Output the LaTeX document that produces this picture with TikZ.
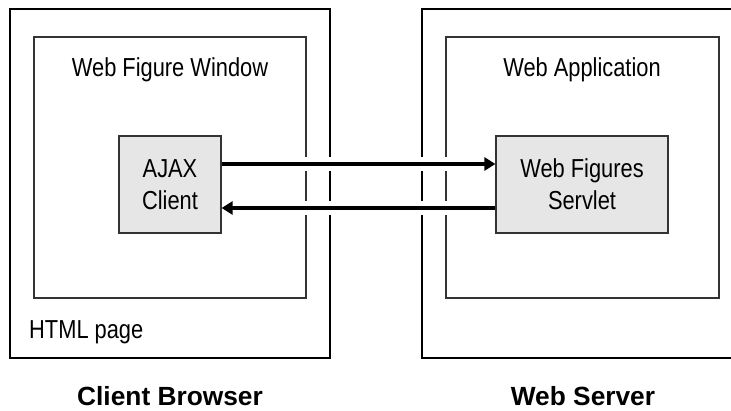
\documentclass[tikz,border=0pt]{standalone}
\usepackage{fontspec}
\setmainfont{Liberation Sans}[FakeStretch=0.84]
\newfontfamily\labelfont{Liberation Sans}
\usetikzlibrary{arrows.meta}
\definecolor{boxgray}{HTML}{E6E6E6}
\definecolor{linegray}{HTML}{333333}
\tikzset{
  outerbox/.style={draw=black, line width=2.6pt, inner sep=0pt, minimum width=#1},
  innerbox/.style={draw=linegray, line width=1.5pt, inner sep=0pt},
  graybox/.style={draw=linegray, line width=1.2pt, fill=boxgray, inner sep=0pt, align=center,
    font=\fontsize{26}{32}\selectfont},
  lighttext/.style={font=\fontsize{26}{32}\selectfont, inner sep=0pt},
  boldlabel/.style={font=\labelfont\bfseries\fontsize{26.3}{30}\selectfont, inner sep=0pt, anchor=base},
  flow/.style={line width=3.2pt, -{Triangle[length=11pt,width=13pt]},
    preaction={draw=white, line width=14pt, -, shorten <=4pt, shorten >=4pt}}
}
\begin{document}
\begin{tikzpicture}[x=1pt,y=-1pt]
\useasboundingbox (0,0) rectangle (731,411);
\clip (0,0) rectangle (731,411);
\fill[white] (0,0) rectangle (731,411);
% left side
\node[outerbox=320pt, minimum height=349pt] (cb) at (170,183.5) {};
\node[innerbox, minimum width=272pt, minimum height=261pt] (wfw) at (170,167.5) {};
\node[graybox, minimum width=102pt, minimum height=97pt] (ajax) at (170,184.5) {AJAX\\Client};
\node[lighttext, anchor=base] (wfwl) at (170,77) {Web Figure Window};
\node[lighttext, anchor=base west] (html) at (29,339) {HTML page};
\node[boldlabel] (cbl) at (170,406) {Client Browser};
% right side
\node[outerbox=321pt, minimum height=349pt] (ws) at (582.5,183.5) {};
\node[innerbox, minimum width=273pt, minimum height=261pt] (wapp) at (582.5,167.5) {};
\node[graybox, minimum width=172pt, minimum height=97pt] (servlet) at (582,184.5) {Web Figures\\Servlet};
\node[lighttext, anchor=base] (wappl) at (582,77) {Web Application};
\node[boldlabel] (wsl) at (583,406) {Web Server};
% connectors
\draw[flow] ([yshift=20.5pt]ajax.east) -- ([yshift=20.5pt]servlet.west);
\draw[flow] ([yshift=-23.5pt]servlet.west) -- ([yshift=-23.5pt]ajax.east);
\end{tikzpicture}
\end{document}
